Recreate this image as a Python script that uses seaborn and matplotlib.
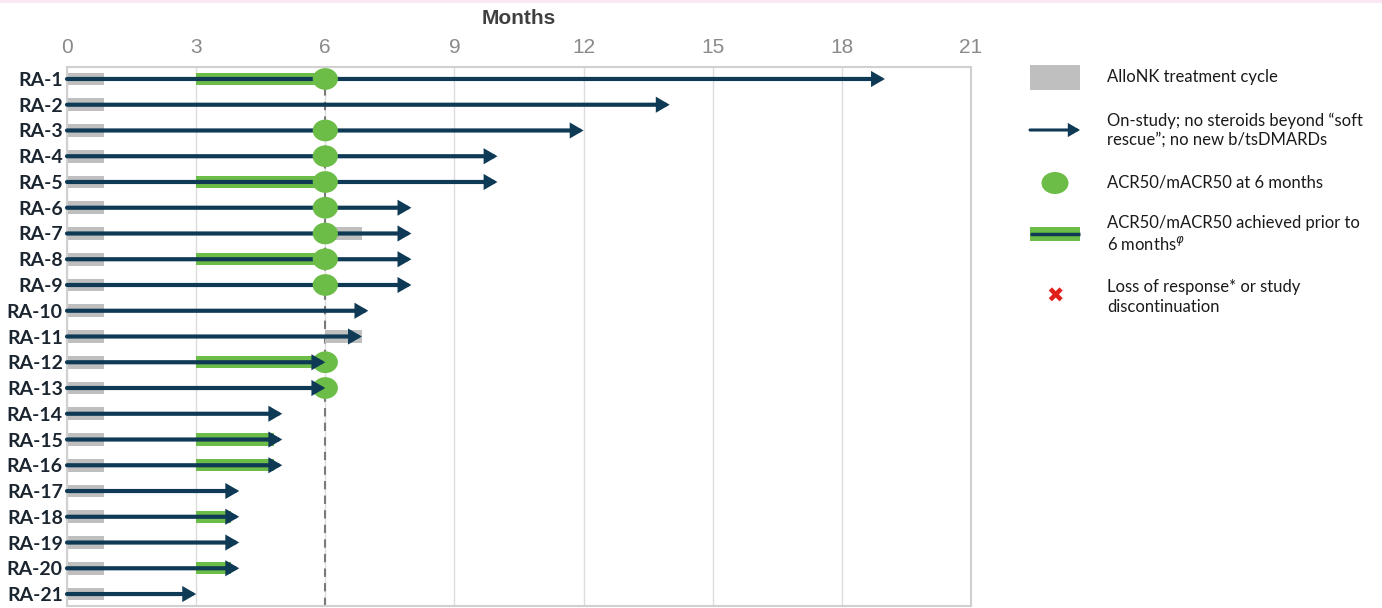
import numpy as np
import pandas as pd
import matplotlib
matplotlib.use("Agg")
import matplotlib.pyplot as plt
from matplotlib.patches import Rectangle, Ellipse
from matplotlib.path import Path
import seaborn as sns

# ---- data -------------------------------------------------------------
patients = ["RA-1", "RA-2", "RA-3", "RA-4", "RA-5", "RA-6", "RA-7", "RA-8",
            "RA-9", "RA-10", "RA-11", "RA-12", "RA-13", "RA-14", "RA-15",
            "RA-16", "RA-17", "RA-18", "RA-19", "RA-20", "RA-21"]
follow_up_months = [19, 14, 12, 10, 10, 8, 8, 8, 8, 7, 6.85, 6, 6, 5, 5, 5,
                    4, 4, 4, 4, 3]
cycle_length = 0.85
retreated = ["RA-7", "RA-11"]
retreat_start = [6, 6]
acr50_at_6m = ["RA-1", "RA-3", "RA-4", "RA-5", "RA-6", "RA-7", "RA-8",
               "RA-9", "RA-12", "RA-13"]
acr50_month = 6
early_responders = ["RA-1", "RA-5", "RA-8", "RA-12", "RA-15", "RA-16",
                    "RA-18", "RA-20"]
early_start = [3, 3, 3, 3, 3, 3, 3, 3]
early_end = [6, 6, 6, 6, 4.8, 4.8, 3.8, 3.8]
month_ticks = [0, 3, 6, 9, 12, 15, 18, 21]

# ---- styling ----------------------------------------------------------
NAVY = "#0f3a55"
GREEN = "#6cbd47"
GREY = "#bfbfbf"
W, H = 1382, 608
ARROW = "-|>,head_length=0.55,head_width=0.32"

sns.set_theme(style="white")
plt.rcParams["font.family"] = ["Lato", "DejaVu Sans"]

fig = plt.figure(figsize=(W / 100, H / 100), dpi=100)
ax = fig.add_axes([67 / W, 1 - 606 / H, (971 - 67) / W, (606 - 67) / H])

row = {p: i for i, p in enumerate(patients)}
df = pd.DataFrame({"patient": patients, "months": follow_up_months,
                   "cycle": [cycle_length] * len(patients)})

# AlloNK treatment cycle (first dose at month 0)
sns.barplot(data=df, x="cycle", y="patient", orient="h", color=GREY,
            saturation=1, width=0.5, errorbar=None, ax=ax, zorder=2,
            linewidth=0)
# second cycle
ax.barh([row[p] for p in retreated], [cycle_length] * len(retreated),
        left=retreat_start, height=0.5, color=GREY, zorder=2, linewidth=0)

# early ACR50 responses
ax.barh([row[p] for p in early_responders],
        np.array(early_end) - np.array(early_start), left=early_start,
        height=0.47, color=GREEN, zorder=3, linewidth=0)

# on-study arrows
for p, m in zip(patients, follow_up_months):
    y = row[p]
    z = 6 if m <= acr50_month + 0.3 else 4
    ax.annotate("", xy=(m, y), xytext=(0, y),
                arrowprops=dict(arrowstyle=ARROW, color=NAVY, lw=3.0,
                                shrinkA=0, shrinkB=0, mutation_scale=10,
                                joinstyle="miter"),
                zorder=z, annotation_clip=False)

# ACR50 at 6 months
theta = np.linspace(0, 2 * np.pi, 60)
ellipse_marker = Path(np.column_stack([np.cos(theta), 0.86 * np.sin(theta)]))
dots = pd.DataFrame({"x": [acr50_month] * len(acr50_at_6m),
                     "y": [row[p] for p in acr50_at_6m]})
sns.scatterplot(data=dots, x="x", y="y", marker=ellipse_marker, s=330,
                color=GREEN, edgecolor="none", linewidth=0, ax=ax, zorder=5,
                legend=False)

# reference line at 6 months
ax.axvline(acr50_month, color="#7a7a7a", lw=1.5, ls=(0, (4, 3)), zorder=1)

# axes cosmetics
ax.set_xlim(0, 21)
ax.set_ylim(len(patients) - 0.535, -0.465)
ax.set_xticks(month_ticks)
ax.xaxis.tick_top()
ax.xaxis.set_label_position("top")
ax.set_xticklabels([str(t) for t in month_ticks], color="#8a8a8a",
                   fontsize=15, family=["Liberation Sans", "DejaVu Sans"])
ax.tick_params(axis="x", length=0, pad=7)
ax.tick_params(axis="y", length=0, pad=3)
ax.set_yticks(range(len(patients)))
ax.set_yticklabels(patients, fontsize=14, fontweight="bold", color="#1b2530")
ax.set_ylabel("")
ax.set_xlabel("Months", fontsize=15, fontweight="bold", color="#404040",
              family=["Liberation Sans", "DejaVu Sans"], labelpad=10)
ax.grid(axis="x", color="#dcdcdc", lw=1, zorder=0)
ax.set_axisbelow(True)
for s in ax.spines.values():
    s.set_color("#d0d0d0")
    s.set_linewidth(1.5)

# ---- legend panel (pixel coordinates) ----------------------------------
lg = fig.add_axes([0, 0, 1, 1], zorder=-1)
lg.set_xlim(0, W)
lg.set_ylim(H, 0)
lg.axis("off")
lg.patch.set_alpha(0)

tx = 1107
fs = 12
lg.add_patch(Rectangle((1030, 65), 50, 25, color=GREY, lw=0))
lg.text(tx, 77, "AlloNK treatment cycle", fontsize=fs, va="center",
        color="#1a1a1a")

lg.annotate("", xy=(1080, 130), xytext=(1030, 130),
            arrowprops=dict(arrowstyle=ARROW, color=NAVY, lw=2.2,
                            shrinkA=0, shrinkB=0, mutation_scale=10,
                            joinstyle="miter"))
lg.text(tx, 130, "On-study; no steroids beyond \u201csoft\nrescue\u201d; no new b/tsDMARDs",
        fontsize=fs, va="center", color="#1a1a1a", linespacing=1.25)

lg.add_patch(Ellipse((1055, 183), 27, 22, color=GREEN, lw=0))
lg.text(tx, 183, "ACR50/mACR50 at 6 months", fontsize=fs, va="center",
        color="#1a1a1a")

lg.add_patch(Rectangle((1030, 227), 50, 14, color=GREEN, lw=0))
lg.plot([1030, 1080], [234, 234], color=NAVY, lw=2.5, solid_capstyle="butt")
lg.text(tx, 234, "ACR50/mACR50 achieved prior to\n6 months$^{\\varphi}$",
        fontsize=fs, va="center", color="#1a1a1a", linespacing=1.25)

lg.text(1055, 297, "\u2716", fontsize=15, ha="center", va="center",
        color="#e0201b", family=["DejaVu Sans"])
lg.text(tx, 297, "Loss of response* or study\ndiscontinuation",
        fontsize=fs, va="center", color="#1a1a1a", linespacing=1.25)

# thin accent strip along the top edge
fig.add_artist(Rectangle((0, 1 - 3 / H), 1, 3 / H, transform=fig.transFigure,
                         color="#fbe6f6", lw=0))

fig.savefig("out.png", dpi=100)
